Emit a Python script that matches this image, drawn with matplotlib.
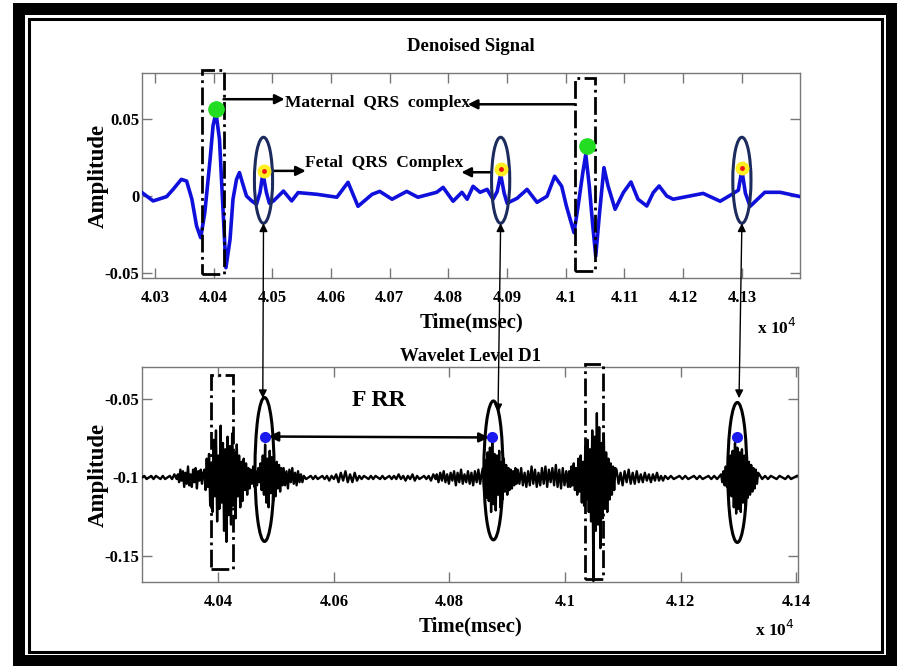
import numpy as np
import matplotlib
matplotlib.use('Agg')
import matplotlib.pyplot as plt
from matplotlib.patches import Ellipse, Rectangle, ConnectionPatch

plt.rcParams['font.family'] = ['Liberation Serif', 'DejaVu Serif']

W, H = 897, 666

# denoised signal, time (ms) / amplitude
den_t = [40278, 40297, 40320, 40331, 40345, 40354, 40363, 40371, 40378, 40385,
         40394, 40399, 40404, 40410, 40414, 40418, 40421, 40428, 40433, 40439,
         40444, 40449, 40456, 40465, 40473, 40479, 40484, 40490, 40495, 40502,
         40519, 40533, 40544, 40576, 40610, 40629, 40646, 40670, 40683, 40704,
         40729, 40748, 40780, 40791, 40808, 40823, 40832, 40842, 40854, 40866,
         40876, 40883, 40889, 40895, 40900, 40917, 40934, 40951, 40968, 40981,
         40993, 41001, 41014, 41021, 41029, 41034, 41040, 41046, 41051, 41057,
         41065, 41072, 41084, 41098, 41111, 41123, 41138, 41149, 41159, 41172,
         41183, 41234, 41263, 41283, 41294, 41300, 41306, 41314, 41339, 41365,
         41397]
den_a = [0.0024, -0.0030, -0.0002, 0.0045, 0.0110, 0.0099, -0.0019, -0.0193, -0.0268, -0.0106,
         0.0240, 0.0457, 0.0543, 0.0370, 0.0067, -0.0236, -0.0463, -0.0279, -0.0019, 0.0110,
         0.0154, 0.0089, 0.0002, -0.0030, -0.0052, 0.0024, 0.0149, 0.0024, -0.0045, -0.0030,
         0.0034, -0.0030, 0.0024, 0.0013, -0.0006, 0.0091, -0.0065, 0.0013, 0.0032, -0.0019,
         0.0032, -0.0006, 0.0026, 0.0058, -0.0032, 0.0026, -0.0019, 0.0065, 0.0026, 0.0045,
         -0.0019, 0.0030, 0.0143, 0.0020, -0.0045, -0.0013, 0.0045, -0.0039, 0.0000, 0.0130,
         0.0065, -0.0063, -0.0236, -0.0063, 0.0154, 0.0273, 0.0067, -0.0193, -0.0388, -0.0128,
         0.0186, 0.0067, -0.0084, 0.0024, 0.0093, -0.0019, -0.0063, 0.0024, 0.0067, 0.0002,
         -0.0019, 0.0019, -0.0032, 0.0013, 0.0040, 0.0169, 0.0020, -0.0065, 0.0026, 0.0026,
         0.0]

# wavelet D1 detail: baseline + pieces (values in 1e-3 around baseline)
d1_base = -0.1
d1_quiet1 = [0, 1, -1, 0, 1, -1, 1, 0, -1, 1, -1, 0, 1, -1, 2, -1]
d1_small1 = [2, -3, 5, -2, 4, -6, 3, -4, 7, -5, 2, -6, 5, -3, 6, -7, 4, -2, 5, -4, 3]
d1_mat1 = [5, -8, 12, -6, 15, -18, 9, -22, 24, -12, 30, -28, 14, -20, 33, -16, 22, -34, 18, -41,
           26, -24, 20, -30, 28, -18, 16, -26, 21, -12, 14, -19, 10, -15, 12, -8, 9, -11, 6, -7]
d1_mid1 = [5, -4, 7, -6, 4, -5, 6, -3]
d1_fet1 = [9, -8, 14, -11, 21, -16, 12, -19, 17, -10, 13, -15, 9, -12, 10, -7, 8, -9, 6, -5]
d1_mid2 = [6, -5, 4, -7, 5, -3, 6, -4, 3, -5, 4, -3, 2, -3]
d1_quiet2 = [1, -1, 0, 1, -1, 1, -1, 0, 1, -1, 1, -2, 1, -1, 2, -3, 3, -2, 4, -3,
             2, -3, 3, -2, 1, -1, 1, 0, -1, 1, -1, 1, 0, -1, 1, -1, 0, 1, -1, 1,
             -1, 2, -1, 1, -2, 1, -1, 2, -2, 1, -1, 0, 1, -1, 1, -2, 2, -1]
d1_low = [2, -3, 3, -2, 4, -3, 2, -4, 3, -2, 4, -5, 3, -3, 5, -4, 2, -3, 4, -4, 3, -5, 4, -3, 5, -4, 3]
d1_fet2 = [6, -8, 11, -13, 16, -15, 19, -22, 25, -17, 15, -21, 14, -11, 17, -19, 10, -14,
           12, -9, 8, -11, 6, -8, 5, -7, 4, -5, 6, -4]
d1_mid3 = [5, -4, 6, -5, 3, -6, 4, -5, 7, -4, 5, -6, 3, -5, 6, -4, 7, -6, 5, -3,
           6, -5, 8, -6, 5, -7, 6, -5, 4, -6]
d1_mat2 = [4, -6, 7, -5, 9, -8, 6, -11, 12, -9, 14, -16, 10, -18, 20, -14, 24, -22, 18, -28,
           30, -66, 26, -34, 41, -30, 32, -45, 22, -26, 28, -20, 16, -22, 12, -14, 9, -11, 7, -8, 6]
d1_mid4 = [5, -4, 3, -5, 4, -3, 5, -4, 3, -4, 4, -3, 2, -3, 3, -2, 2, -3, 2, -2, 3, -2, 1, -2]
d1_quiet3 = [1, -1, 1, -1, 0, 1, -1, 1, -1, 0, 1, -1, 1, -1, 0, 1, -1, 1, -1]
d1_fet3 = [2, -3, 4, -5, 7, -6, 9, -11, 14, -12, 17, -19, 22, -23, 19, -20, 16, -22, 18, -16,
           14, -18, 12, -13, 10, -11, 8, -9, 6, -7, 5, -4, 3]
d1_quiet4 = [2, -1, 1, -1, 1, 0, -1, 1, 0, -1, 1, -1, 0, 1]
# (start ms, step ms, piece)
d1_parts = [(40268, 4, d1_quiet1), (40330, 2.2, d1_small1), (40376, 2, d1_mat1),
            (40456, 2.2, d1_mid1), (40473, 2, d1_fet1), (40513, 2.5, d1_mid2),
            (40548, 4, d1_quiet2), (40778, 3, d1_low), (40858, 2, d1_fet2),
            (40918, 3, d1_mid3), (41007, 2, d1_mat2), (41089, 3.5, d1_mid4),
            (41173, 5, d1_quiet3), (41270, 2, d1_fet3), (41336, 5, d1_quiet4)]

# markers / annotations
mat_t = [40404, 41036]
mat_a = [0.0565, 0.0325]
fet_t = [40485, 40889, 41300]
fet_a = [0.0162, 0.0175, 0.0182]
fet_ell_a = 0.0104
d1_fet_t = [40481, 40874, 41298]
d1_fet_v = [-0.0739, -0.0745, -0.0745]
d1_ell_t = [40480, 40876, 41298]
d1_ell_v = [-0.0949, -0.0955, -0.0968]
d1_ell_h = [0.0917, 0.0885, 0.0892]
link_bot_t = [40477, 40884, 41301]
link_bot_v = [-0.0495, -0.0585, -0.0495]
top_boxes = [(40380, 40417, -0.0506, 0.0818), (41015, 41050, -0.0487, 0.0766)]
bot_boxes = [(40388, 40426, -0.1586, -0.0344), (41035, 41066, -0.165, -0.028)]

top_ticks = [40300, 40400, 40500, 40600, 40700, 40800, 40900, 41000, 41100, 41200, 41300]
top_ticklabels = ['4.03', '4.04', '4.05', '4.06', '4.07', '4.08', '4.09', '4.1', '4.11', '4.12', '4.13']
bot_ticks = [40400, 40600, 40800, 41000, 41200, 41400]
bot_ticklabels = ['4.04', '4.06', '4.08', '4.1', '4.12', '4.14']


def fx(x):
    return x / W


def fy(y):
    return 1 - y / H


fig = plt.figure(figsize=(W / 100, H / 100), dpi=100)
fig.patch.set_facecolor('white')

# picture frame
fig.add_artist(Rectangle((fx(13), 0), 1 - fx(13), fy(3), transform=fig.transFigure,
                         facecolor='black', edgecolor='none', zorder=0))
fig.add_artist(Rectangle((fx(25), fy(655)), fx(886) - fx(25), fy(15) - fy(655),
                         transform=fig.transFigure, facecolor='white', edgecolor='none', zorder=0))
fig.add_artist(Rectangle((fx(29), fy(652)), fx(882) - fx(29), fy(19) - fy(652),
                         transform=fig.transFigure, facecolor='white', edgecolor='black',
                         linewidth=2.2, zorder=0))

ax1 = fig.add_axes([fx(142), fy(278), fx(800) - fx(142), fy(73) - fy(278)])
ax2 = fig.add_axes([fx(142), fy(582), fx(798) - fx(142), fy(367) - fy(582)])

for ax in (ax1, ax2):
    for s in ax.spines.values():
        s.set_color('#777777')
        s.set_linewidth(1)
    ax.tick_params(direction='in', length=7, width=1, color='#777777', top=True, right=True,
                   labelsize=12)
    ax.tick_params(axis='x', pad=9)
    ax.tick_params(axis='y', pad=2)

# top panel
ax1.plot(den_t, den_a, color='#1010dd', lw=2.6, solid_joinstyle='round', zorder=3)
ax1.set_xlim(40278, 41399)
ax1.set_ylim(-0.053, 0.08)
ax1.set_xticks(top_ticks)
ax1.set_xticklabels(top_ticklabels, fontweight='bold')
ax1.set_yticks([-0.05, 0, 0.05])
ax1.set_yticklabels(['-0.05', '0', '0.05'], fontweight='bold')
ax1.set_title('Denoised Signal', fontsize=13.5, fontweight='bold', pad=16)
ax1.set_xlabel('Time(msec)', fontsize=15, fontweight='bold', va='center')
ax1.xaxis.set_label_coords(0.5, -0.215)
ax1.set_ylabel('Amplitude', fontsize=16.5, fontweight='bold', va='center')
ax1.yaxis.set_label_coords(-0.067, 0.5)

for (x0, x1, y0, y1) in top_boxes:
    ax1.add_patch(Rectangle((x0, y0), x1 - x0, y1 - y0, fill=False, ls='-.', lw=2,
                            edgecolor='black', clip_on=False, zorder=4))
for t in fet_t:
    ax1.add_patch(Ellipse((t, fet_ell_a), 31, 0.0558, fill=False, edgecolor='#1c2b5e',
                          lw=2.2, zorder=4))
ax1.plot(mat_t, mat_a, 'o', color='#22dd22', ms=12, mec='none', zorder=5)
ax1.plot(fet_t, fet_a, 'o', color='#ffee22', ms=10, mec='none', zorder=5)
ax1.plot(fet_t, fet_a, 'o', color='#ee1111', ms=3.5, mec='none', zorder=6)

arrow_kw = dict(arrowstyle='-|>', color='black', lw=1.8, mutation_scale=14,
                shrinkA=0, shrinkB=0)
ax1.text(40521, 0.0605, 'Maternal  QRS  complex', fontsize=12.5, fontweight='bold',
         va='center', ha='left', zorder=6)
ax1.annotate('', xy=(40521, 0.063), xytext=(40417, 0.063), arrowprops=arrow_kw)
ax1.annotate('', xy=(40833, 0.0597), xytext=(41015, 0.0597), arrowprops=arrow_kw)
ax1.text(40556, 0.0215, 'Fetal  QRS  Complex', fontsize=12.5, fontweight='bold',
         va='center', ha='left', zorder=6)
ax1.annotate('', xy=(40557, 0.0165), xytext=(40501, 0.0165), arrowprops=arrow_kw)
ax1.annotate('', xy=(40822, 0.0156), xytext=(40874, 0.0156), arrowprops=arrow_kw)
ax1.text(0.995, -0.245, r'x 10$^4$', transform=ax1.transAxes, fontsize=12.5, fontweight='bold',
         ha='right', va='center')

# bottom panel
d1_t = []
d1_v = []
for start, step, piece in d1_parts:
    for i, v in enumerate(piece):
        d1_t.append(start + step * i)
        d1_v.append(d1_base + v / 1000)
ax2.plot(d1_t, d1_v, color='black', lw=1.7, zorder=3)
ax2.set_xlim(40268, 41403)
ax2.set_ylim(-0.1666, -0.0296)
ax2.set_xticks(bot_ticks)
ax2.set_xticklabels(bot_ticklabels, fontweight='bold')
ax2.set_yticks([-0.15, -0.1, -0.05])
ax2.set_yticklabels(['-0.15', '-0.1', '-0.05'], fontweight='bold')
ax2.set_title('Wavelet Level D1', fontsize=13.5, fontweight='bold', pad=4)
ax2.set_xlabel('Time(msec)', fontsize=15, fontweight='bold', va='center')
ax2.xaxis.set_label_coords(0.5, -0.209)
ax2.set_ylabel('Amplitude', fontsize=16.5, fontweight='bold', va='center')
ax2.yaxis.set_label_coords(-0.067, 0.5)
ax2.text(0.995, -0.225, r'x 10$^4$', transform=ax2.transAxes, fontsize=12.5, fontweight='bold',
         ha='right', va='center')

for (x0, x1, y0, y1) in bot_boxes:
    ax2.add_patch(Rectangle((x0, y0), x1 - x0, y1 - y0, fill=False, ls='-.', lw=2,
                            edgecolor='black', clip_on=False, zorder=4))
for t, v, h in zip(d1_ell_t, d1_ell_v, d1_ell_h):
    ax2.add_patch(Ellipse((t, v), 33, h, fill=False, edgecolor='black', lw=2.2, zorder=4))
ax2.plot(d1_fet_t, d1_fet_v, 'o', color='#1a1aee', ms=8, mec='none', zorder=5)
ax2.annotate('', xy=(d1_fet_t[1] - 6, d1_fet_v[1]), xytext=(d1_fet_t[0] + 6, d1_fet_v[0]),
             arrowprops=dict(arrowstyle='<|-|>', color='black', lw=1.8, mutation_scale=14,
                             shrinkA=0, shrinkB=0))
ax2.text(40677, -0.051, 'F RR', fontsize=17, fontweight='bold', ha='center', va='center')

# vertical links from the fetal complexes to the D1 detail
for i in range(3):
    con = ConnectionPatch(xyA=(fet_t[i], fet_ell_a - 0.0279), coordsA=ax1.transData,
                          xyB=(link_bot_t[i], link_bot_v[i]), coordsB=ax2.transData,
                          arrowstyle='<|-|>', color='black', lw=1, mutation_scale=12,
                          shrinkA=0, shrinkB=0)
    fig.add_artist(con)

fig.savefig('out.png', dpi=100)
